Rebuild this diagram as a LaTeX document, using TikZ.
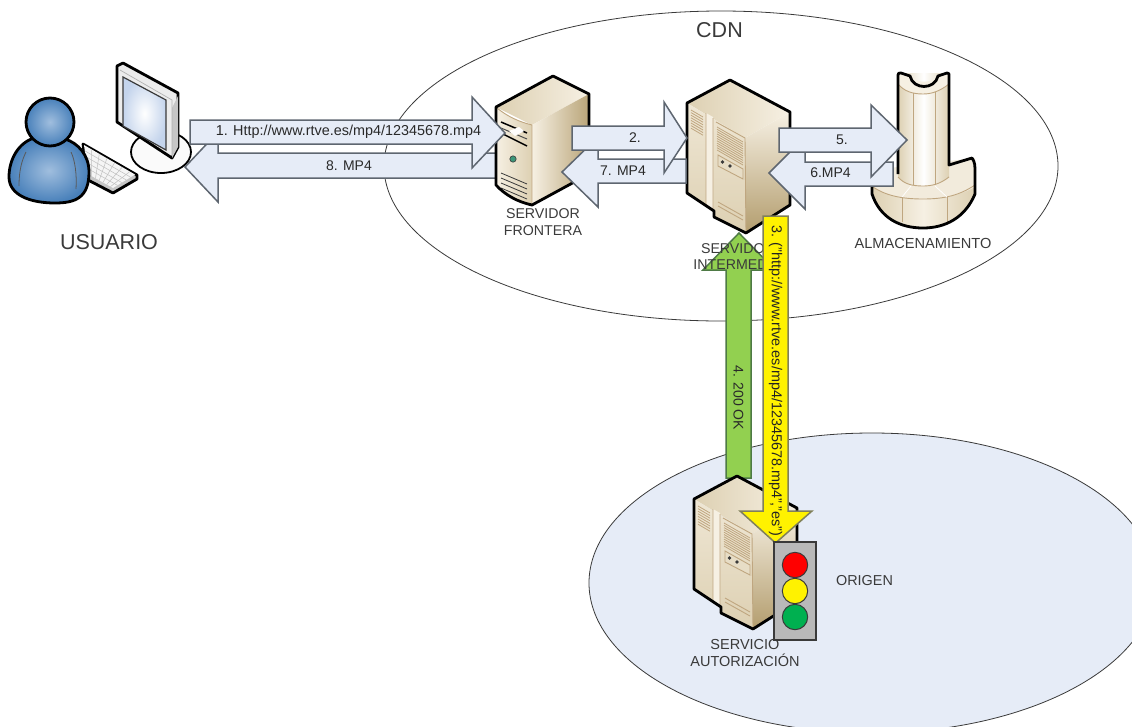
\documentclass[tikz,border=0pt]{standalone}
\usepackage{fontspec}
\setmainfont{Liberation Sans}
\definecolor{ink}{HTML}{3A3A3A}
\definecolor{arrowfill}{HTML}{E6ECF7}
\definecolor{arrowline}{HTML}{5E6670}
\definecolor{panelA}{HTML}{F6F0E3}
\definecolor{panelB}{HTML}{DDD0B2}
\definecolor{panelC}{HTML}{B39D6E}
\definecolor{seam}{HTML}{BFA680}
\definecolor{bluein}{HTML}{A0BEDE}
\definecolor{blueout}{HTML}{4880BA}
\definecolor{screenout}{HTML}{C4D4EC}
\definecolor{ledgreen}{HTML}{3C9678}
\definecolor{lampgreen}{HTML}{00B050}
\definecolor{arrowgreen}{HTML}{92D050}
\definecolor{greenline}{HTML}{4E7A45}
\definecolor{yellowline}{HTML}{80805A}
\newcommand\fs[1]{\fontsize{#1}{#1}\selectfont}
\tikzset{
  zone/.style={draw=ink,line width=.8pt},
  blockarrow/.style={draw=arrowline,line width=1.5pt,fill=arrowfill,line join=miter},
  greenarrow/.style={draw=greenline,line width=1.5pt,fill=arrowgreen},
  yellowarrow/.style={draw=yellowline,line width=1.5pt,fill=yellow},
  outline/.style={draw=black,line width=2.8pt,line join=round},
  seamline/.style={draw=seam,line width=.9pt},
  lbl/.style={text=ink,align=center,inner sep=0pt},
  arrowlbl/.style={text=ink!70!black,inner sep=0pt,font=\fs{14}},
  lamp/.style={draw=ink,line width=1pt},
}
% cabinet server, drawn at shift (#1,#2)
\newcommand\cabinet[2]{%
\begin{scope}[shift={(#1,#2)}]
  \shade[left color=panelB,right color=panelA] (687,103)--(730,80)--(790,112)--(745,138)--cycle;
  \shade[top color=panelA!70!panelB,bottom color=panelB] (687,103)--(745,138)--(746,233)--(714,217)--(714,211)--(687,193)--cycle;
  \shade[shading angle=135,top color=panelA,bottom color=panelC] (745,138)--(790,112)--(790,205)--(746,233)--cycle;
  \fill[panelA] (706,113)--(713,117)--(713,210)--(706,206)--cycle;
  \draw[seamline] (706,113)--(706,205) (713,118)--(713,211) (716,122)--(745,138)--(746,233);
  \foreach \k in {0,...,7}{\draw[seamline,line width=.8pt] (691,{110+\k*2.6})--(703,{117+\k*2.6});}
  \foreach \k in {0,...,10}{\draw[seamline,line width=.8pt] (717,{127+\k*2.3})--(743,{142+\k*2.3});}
  \draw[seamline,fill=panelB!60!panelA] (718,155)--(743,169)--(743,179)--(718,166)--cycle;
  \fill[ink] (722.5,162) circle (1.8) (730,166) circle (1.8);
  \draw[seamline] (718,202)--(743,216) (718,206)--(743,220);
  \draw[outline] (730,80)--(790,112)--(790,205)--(746,233)--(714,217)--(714,211)--(687,193)--(687,103)--cycle;
\end{scope}}
\begin{document}
\begin{tikzpicture}[x=1pt,y=-1pt]
\useasboundingbox (0,0) rectangle (1132,726);
\begin{scope}
\clip (0,0) rectangle (1132,726);
\draw[zone] (721,166) ellipse [x radius=337,y radius=155];
\draw[zone,fill=arrowfill] (872,583) ellipse [x radius=283,y radius=150];
\end{scope}
\node[lbl,font=\fs{21.5}] (cdn) at (719.5,30) {CDN};
\node[lbl,font=\fs{21.5}] (usuario) at (109,242) {USUARIO};
\node[lbl,font=\fs{14.4}] (origen) at (864.5,581) {ORIGEN};

% keyboard
\draw[outline,fill=gray!45] (83,144)--(137,175)--(137,179)--(113,193)--(88,180)--cycle;
\fill[gray!8] (84,145)--(135,174.5)--(113,188)--(88,174)--cycle;
\foreach \t in {.2,.4,.6,.8}{\draw[gray!50,line width=.5pt] ({84+4*\t},{145+29*\t})--({135-22*\t},{174.5+13.5*\t});}
\foreach \t in {.15,.3,.45,.6,.75,.9}{\draw[gray!50,line width=.5pt] ({84+51*\t},{145+29.5*\t})--({88+25*\t},{174+14*\t});}
% person
\draw[outline,inner color=bluein,outer color=blueout]
  (34,138) .. controls (18,143) and (9,160) .. (9,177)
  .. controls (9,195) and (30,203) .. (55,203)
  .. controls (75,203) and (89,198) .. (89,172)
  .. controls (89,155) and (78,143) .. (65,139) -- cycle;
\draw[gray!70!black,line width=.8pt] (19,186) .. controls (19,170) and (22,160) .. (26,152)
  (76,189) .. controls (77,175) and (75,160) .. (71,152);
\draw[outline,inner color=bluein,outer color=blueout] (50,122) circle (24);

% monitor
\draw[outline,fill=white!96!gray,line width=1.8pt] (161,152) ellipse [x radius=30,y radius=21];
\draw[outline,fill=gray!15] (117,66)--(123,63)--(178,93)--(178,147)--(172,158)--(117,122)--cycle;
\fill[gray!45] (172,108)--(178,96)--(178,147)--(172,158)--cycle;
\draw[gray!60,line width=.7pt] (120,70)--(172,100)--(172,155);
\shade[draw=ink,line width=1.2pt,inner color=white,outer color=screenout] (123,77)--(166,100)--(166,150)--(123,126)--cycle;

% arrow 8 runs behind the front server
\draw[blockarrow] (500,153)--(218,153)--(218,132)--(185,167)--(218,202)--(218,178)--(500,178)--cycle;

% front server
\shade[left color=panelB,right color=panelA] (496,107)--(553,76)--(589,94)--(532,125)--cycle;
\shade[left color=panelA,right color=panelB] (496,107) .. controls (508,117) and (520,122) .. (532,125) -- (532,205) .. controls (518,202) and (505,195) .. (496,185)--cycle;
\shade[left color=panelA,right color=panelC!85!panelB] (532,125)--(589,94)--(589,174)--(532,205)--cycle;
\draw[seamline] (497,108) .. controls (508,117) and (520,122) .. (532,125)--(532,205);
\draw[black,line width=1.5pt] (501,122)--(527,133) (501,133)--(527,146);
\draw[black!70,line width=1pt] (501,128)--(527,139);
\fill[white!90!panelA] (509,131)--(519,127)--(524,131)--(515,136)--cycle;
\fill[ledgreen,draw=ink,line width=.6pt] (513,159) circle (3.2);
\foreach \k in {0,...,3}{\draw[ink,line width=.8pt] (501,{173+\k*5})--(527,{184+\k*5});}
\draw[outline] (553,76)--(589,94)--(589,174)--(532,205) .. controls (518,202) and (505,195) .. (496,185)--(496,107)--cycle;

% intermediate server
\draw[greenarrow] (726,478)--(726,270)--(703,270)--(739,233)--(775,270)--(751,270)--(751,478)--cycle;
\node[text=ink!70!black,inner sep=0pt,font=\fs{14},rotate=-90] (ok) at (738.5,398) {4. 200 OK};
\cabinet{0}{0}
\node[lbl,font=\fs{14.2}] (svint) at (738,256.5) {SERVIDOR\\[2.5pt]INTERMEDIO};
\node[lbl,font=\fs{14.2}] (svfro) at (543,222) {SERVIDOR\\[2.5pt]FRONTERA};

% storage
\shade[left color=panelB,right color=panelB,middle color=panelA] (872,170) -- (975,170) -- (975,196) .. controls (965,218) and (945,228) .. (923,228) .. controls (900,228) and (880,218) .. (872,196)--cycle;
\fill[panelA!85!panelB] (872,170)--(975,158)--(975,187) .. controls (960,195) and (945,199) .. (923,199) .. controls (900,199) and (885,195) .. (873,187)--cycle;
\draw[seamline] (873,187) .. controls (885,195) and (900,199) .. (923,199) .. controls (945,199) and (960,195) .. (975,185);
\draw[seamline] (902,197)--(902,222) (947,197)--(947,222);
\draw[white,line width=.7pt] (911,186)--(902,197) (935,186)--(947,197);
\shade[left color=panelB,right color=panelB,middle color=white] (898,73)--(949,73)--(949,177) .. controls (940,184) and (932,186) .. (923,186) .. controls (912,186) and (904,184) .. (898,177)--cycle;
\fill[panelA] (898,73)--(912,75) .. controls (913,84) and (935,84) .. (936,75)--(949,73)--(949,84) .. controls (940,91) and (932,94) .. (923,94) .. controls (912,94) and (904,91) .. (898,84)--cycle;
\draw[seamline] (898,84) .. controls (904,91) and (912,94) .. (923,94) .. controls (932,94) and (940,91) .. (949,84);
\draw[seamline] (913,93)--(913,185) (935,92)--(935,185);
\draw[seamline] (898,177) .. controls (904,184) and (912,186) .. (923,186) .. controls (932,186) and (940,184) .. (949,177);
\draw[outline] (898,174)--(898,75) .. controls (898,73) and (899,73) .. (901,73) -- (910,76) .. controls (913,90) and (935,90) .. (938,76)--(947,73) .. controls (949,73) and (949,74) .. (949,75)--(949,165)--(972,158) .. controls (975,162) and (975,166) .. (975,172)--(975,194) .. controls (965,218) and (945,228) .. (923,228) .. controls (900,228) and (880,218) .. (872,194)--(872,170);
\node[lbl,font=\fs{14.6}] (alm) at (923,243) {ALMACENAMIENTO};

% authorization server
\cabinet{7}{396}
\node[lbl,font=\fs{14.5}] (svaut) at (745,653) {SERVICIO\\[2.5pt]AUTORIZACIÓN};

% horizontal arrows
\draw[blockarrow] (686,159)--(598,159)--(598,137)--(562,172)--(598,207)--(598,183)--(686,183)--cycle;
\draw[blockarrow] (572,126)--(664,126)--(664,102)--(687,138)--(664,173)--(664,150)--(572,150)--cycle;
\draw[blockarrow] (893,162)--(805,162)--(805,137)--(769,173)--(805,209)--(805,186)--(893,186)--cycle;
\draw[blockarrow] (779,128)--(871,128)--(871,105)--(907,140)--(871,177)--(871,152)--(779,152)--cycle;
\draw[blockarrow] (190,120)--(472,120)--(472,97)--(505,133)--(472,168)--(472,144)--(190,144)--cycle;

% yellow arrow
\draw[yellowarrow] (763,216)--(788,216)--(788,511)--(812,511)--(775.5,543)--(740,511)--(763,511)--cycle;

% traffic light
\draw[fill=gray!55,draw=ink,line width=1.2pt] (774,542) rectangle (816,640);
\draw[lamp,fill=red] (795,565) circle (12.7);
\draw[lamp,fill=yellow] (795,591) circle (12.7);
\draw[lamp,fill=lampgreen] (795,617) circle (12.7);

% arrow labels
\node[arrowlbl,font=\fs{14.4}] (t1) at (348.5,132) {1. Http://www.rtve.es/mp4/12345678.mp4};
\node[arrowlbl] (t8) at (349,166) {8. MP4};
\node[arrowlbl] (t2) at (635,138) {2.};
\node[arrowlbl] (t7) at (623,171) {7. MP4};
\node[arrowlbl] (t5) at (842,140) {5.};
\node[arrowlbl] (t6) at (830.5,173) {6.MP4};
\node[text=ink!60!black,inner sep=0pt,font=\fs{14.4},rotate=-90] (t3) at (775.5,381) {3. ("http://www.rtve.es/mp4/12345678.mp4","es")};
\end{tikzpicture}
\end{document}
